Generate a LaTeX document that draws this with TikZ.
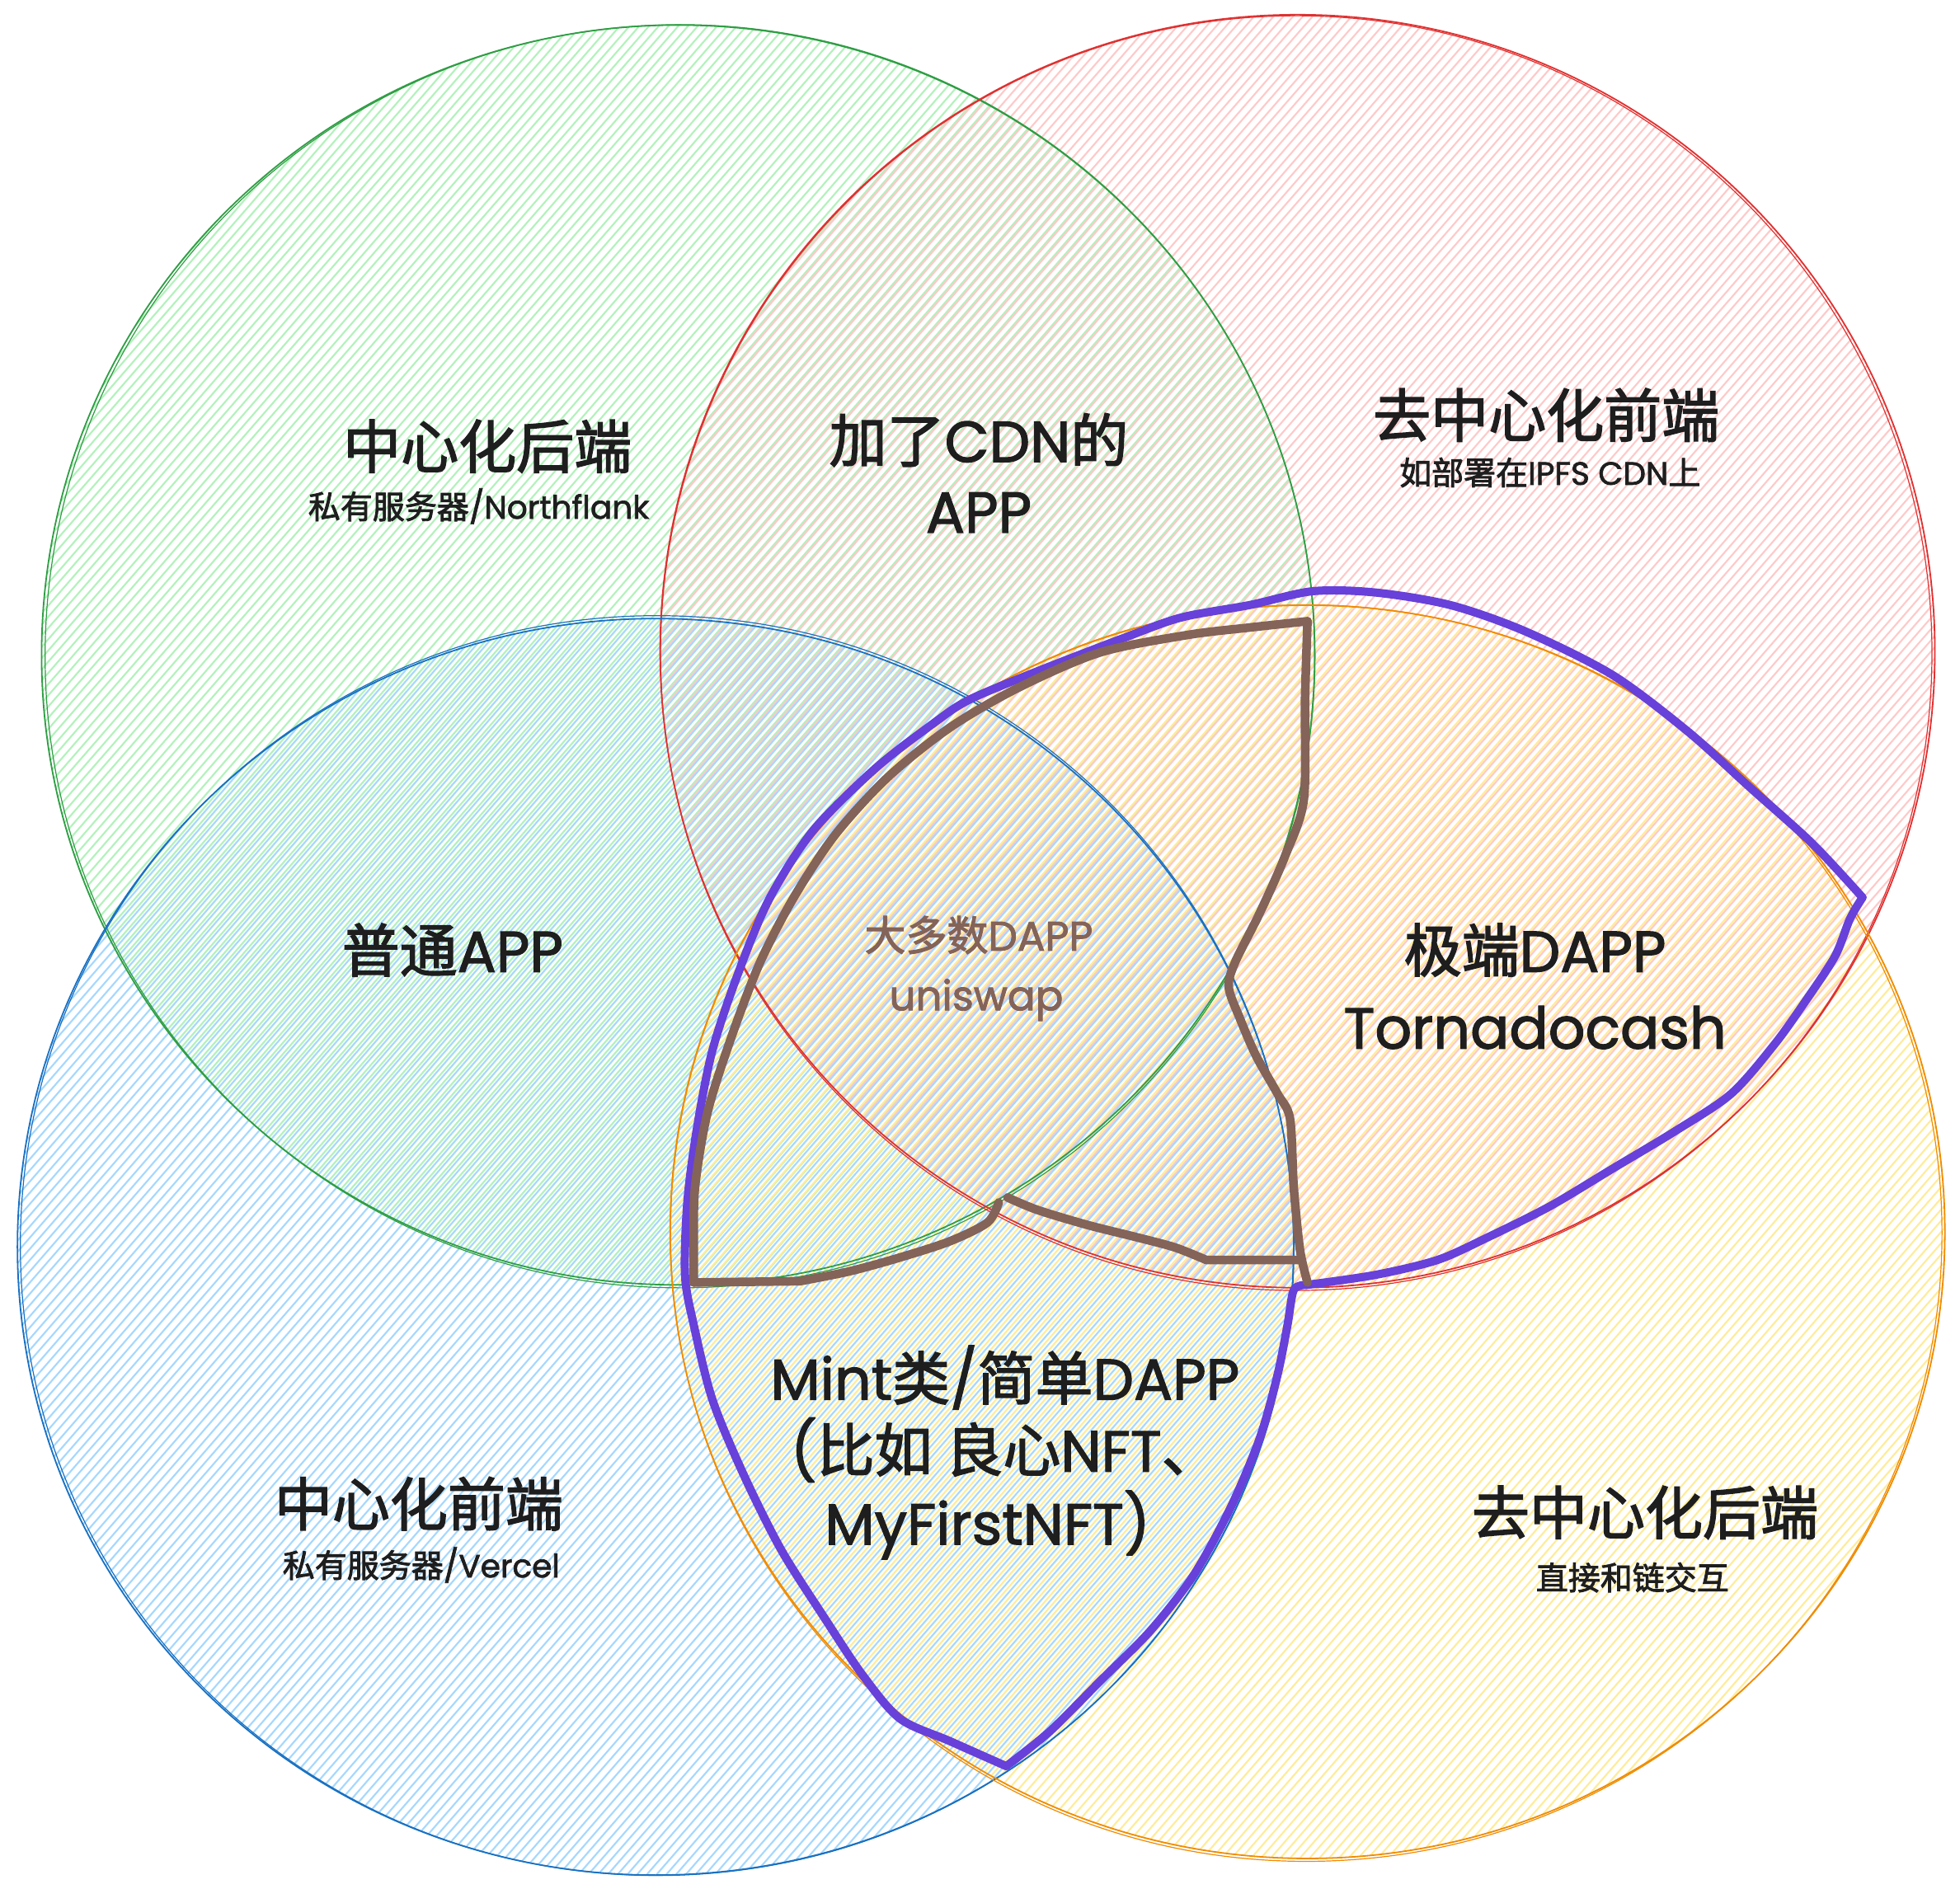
\documentclass[tikz,border=0pt]{standalone}
\usepackage{fontspec}
\setmainfont{Poppins}[FakeBold=1.8]
\newfontfamily\cjk{Noto Sans CJK SC}[FakeBold=2.2]
\definecolor{gstroke}{HTML}{2F9E44}
\definecolor{gfill}{HTML}{B2F2BB}
\definecolor{rstroke}{HTML}{E03131}
\definecolor{rfill}{HTML}{FFC9C9}
\definecolor{bstroke}{HTML}{1971C2}
\definecolor{bfill}{HTML}{A5D8FF}
\definecolor{ostroke}{HTML}{F08C00}
\definecolor{ofill}{HTML}{FFEC99}
\definecolor{violet}{HTML}{6741D9}
\definecolor{brownline}{HTML}{846358}
\definecolor{ink}{HTML}{1E1E1E}
\newcommand\myhatch[5]{%
  \begin{scope}
    \clip (#1,#2) ellipse [x radius=#3pt, y radius=#4pt];
    \foreach \k in {-88,...,88}{%
      \draw[hatchline,#5] ({#1+\k*7.8-521},{#2+600}) -- ({#1+\k*7.8+521},{#2-600});
    }
  \end{scope}}
\begin{document}
\begin{tikzpicture}[x=1.516pt,y=-1.516pt,
  hatchline/.style={line width=2.1pt,line cap=round},
  ring/.style={line width=1.8pt},
  bigl/.style={text=ink,inner sep=0pt,font=\fontsize{70}{80}\selectfont},
  smalll/.style={text=ink,inner sep=0pt,font=\fontsize{39}{45}\selectfont},
  midl/.style={text=brownline,inner sep=0pt,font=\fontsize{50}{58}\selectfont},
  violetline/.style={violet,line width=10pt,line cap=round,line join=round},
  brownstroke/.style={brownline,line width=10.5pt,line cap=round,line join=round}]
\useasboundingbox (0,0) rectangle (1568,1511);
\fill[white] (0,0) rectangle (1568,1511);
% centres
\coordinate (cg) at (542.5,524);
\coordinate (cr) at (1038,521);
\coordinate (cb) at (524.5,997.5);
\coordinate (co) at (1046,985.5);
% hachure fills
\myhatch{542.5}{524}{772}{764}{gfill}
\myhatch{1038}{521}{773}{772}{rfill}
\myhatch{524.5}{997.5}{774}{762}{bfill}
\myhatch{1046}{985.5}{773}{760}{ofill}
% outlines
\draw[ring,gstroke] (cg) ellipse [x radius=772pt,y radius=764pt];
\draw[ring,gstroke,line width=1.2pt] ([shift={(1.5,1)}]cg) ellipse [x radius=770pt,y radius=766pt];
\draw[ring,rstroke] (cr) ellipse [x radius=773pt,y radius=772pt];
\draw[ring,rstroke,line width=1.2pt] ([shift={(-1,1.5)}]cr) ellipse [x radius=771pt,y radius=773pt];
\draw[ring,bstroke] (cb) ellipse [x radius=774pt,y radius=762pt];
\draw[ring,bstroke,line width=1.2pt] ([shift={(1,-1)}]cb) ellipse [x radius=772pt,y radius=764pt];
\draw[ring,ostroke] (co) ellipse [x radius=773pt,y radius=760pt];
\draw[ring,ostroke,line width=1.2pt] ([shift={(-1,1)}]co) ellipse [x radius=771pt,y radius=762pt];
% violet outline
\draw[violetline] plot[smooth,tension=0.5] coordinates {(805,1413) (760,1393) (720,1375) (690,1340) (660,1295) (625,1240) (595,1180) (570,1120) (555,1060) (548,1020) (550,960) (558,900) (570,840) (590,780) (615,720) (650,665) (700,615) (745,580) (775,560) (830,537) (900,510) (945,494) (1000,484) (1050,473) (1100,474) (1160,484) (1220,505) (1290,540) (1350,585) (1400,630) (1450,675) (1490,718)};
\draw[violetline] plot[smooth,tension=0.5] coordinates {(1490,718) (1480,735) (1468,765) (1445,800) (1420,835) (1385,875) (1340,905) (1290,935) (1240,965) (1190,990) (1150,1008) (1100,1020) (1045,1028)};
\draw[violetline] plot[smooth,tension=0.5] coordinates {(1045,1028) (1035,1032) (1030,1060) (1022,1100) (1008,1150) (985,1205) (955,1260) (920,1305) (880,1345) (840,1385) (805,1413)};
\fill[violet] (775,560) circle [radius=5pt];
\fill[violet] (1050,473) circle [radius=5pt];
% brown outline
\draw[brownstroke] plot[smooth,tension=0.5] coordinates {(799,962) (790,978) (760,993) (720,1006) (680,1017) (640,1025)} -- (555,1026);
\draw[brownstroke] plot[smooth,tension=0.5] coordinates {(555,1026) (555,1000) (556,950) (566,890) (585,830) (608,770) (635,718) (668,668) (710,622) (760,582) (815,550) (880,522) (950,508) (1000,502) (1046,497)};
\draw[brownstroke] plot[smooth,tension=0.5] coordinates {(1046,497) (1044,560) (1043,640) (1028,685) (1008,730) (988,770) (983,790) (992,815) (1005,845) (1022,875) (1032,895) (1035,950) (1040,1000) (1046,1026)};
\draw[brownstroke] plot[smooth,tension=0.5] coordinates {(806,958) (830,968) (870,980) (910,990) (940,998) (965,1008)} -- (1040,1008);
% labels
\node[bigl] (l1) at (390,357) {\cjk 中心化后端};
\node[smalll] (l1s) at (383,405) {{\cjk 私有服务器}/Northflank};
\node[bigl] (l2) at (783,352) {{\cjk 加了}CDN{\cjk 的}};
\node[bigl] (l2b) at (783,410) {APP};
\node[bigl] (l3) at (1237,332) {\cjk 去中心化前端};
\node[smalll] (l3s) at (1240,378) {{\cjk 如部署在}IPFS CDN{\cjk 上}};
\node[bigl] (l4) at (362,760) {{\cjk 普通}APP};
\node[midl] (l5) at (783,748) {{\cjk 大多数}DAPP};
\node[midl] (l5b) at (781,800) {uniswap};
\node[bigl] (l6) at (1228,760) {{\cjk 极端}DAPP};
\node[bigl] (l6b) at (1228,822) {Tornadocash};
\node[bigl] (l7) at (804,1102) {Mint{\cjk 类}/{\cjk 简单}DAPP};
\node[bigl] (l7b) at (804,1160) {({\cjk 比如 良心}NFT{\cjk 、}};
\node[bigl] (l7c) at (790,1220) {MyFirstNFT)};
\node[bigl] (l8) at (335,1203) {\cjk 中心化前端};
\node[smalll] (l8s) at (337,1252) {{\cjk 私有服务器}/Vercel};
\node[bigl] (l9) at (1316,1210) {\cjk 去中心化后端};
\node[smalll] (l9s) at (1306,1262) {\cjk 直接和链交互};
\end{tikzpicture}
\end{document}
